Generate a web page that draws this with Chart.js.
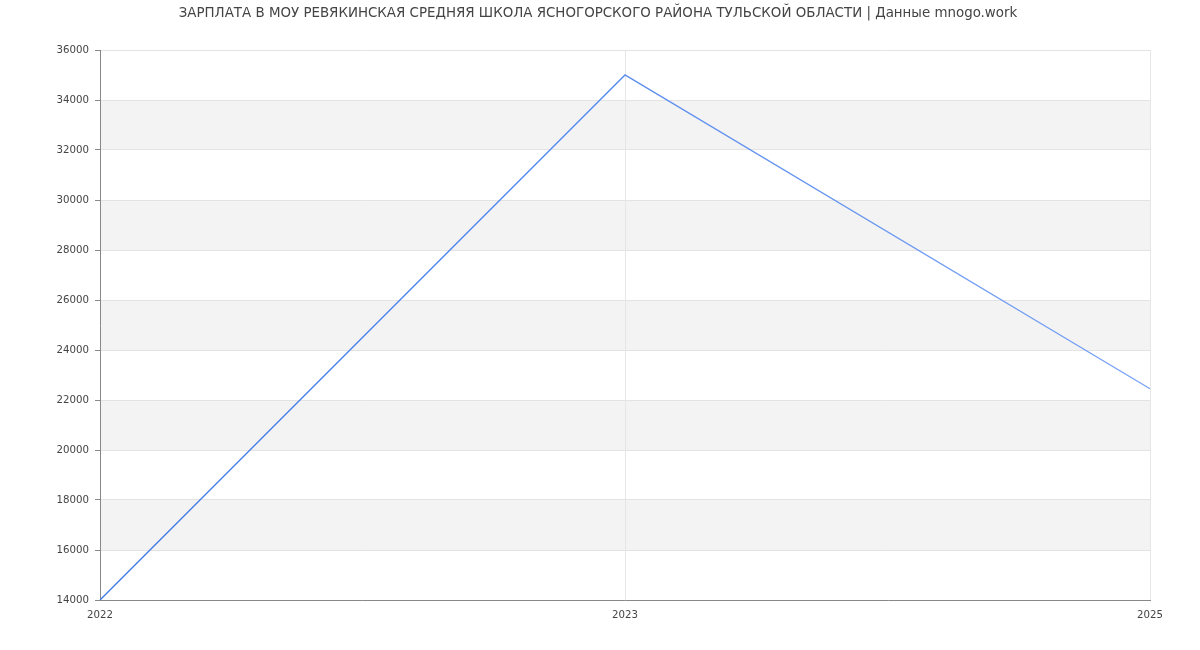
<!DOCTYPE html>
<html><head><meta charset="utf-8">
<script src="https://cdn.jsdelivr.net/npm/chart.js@4"></script>
<style>html,body{margin:0;padding:0;background:#fff}#wrap{width:1200px;height:650px}</style>
</head><body><div id="wrap"><canvas id="c"></canvas></div>
<script>
const titleText = "ЗАРПЛАТА В МОУ РЕВЯКИНСКАЯ СРЕДНЯЯ ШКОЛА ЯСНОГОРСКОГО РАЙОНА ТУЛЬСКОЙ ОБЛАСТИ | Данные mnogo.work";
const years = ["2022", "2023", "2025"];
const salary = [14000, 35000, 22450];
const yMin = 14000, yMax = 36000, yStep = 2000;

const bandsBg = {
  id: 'bandsBg',
  beforeDraw(chart) {
    const {ctx, chartArea: a, scales: {y}} = chart;
    ctx.save();
    ctx.fillStyle = '#f3f3f3';
    let i = 0;
    for (let v = yMin; v < yMax; v += yStep, i++) {
      if (i % 2 === 1) {
        const t = y.getPixelForValue(v + yStep), b = y.getPixelForValue(v);
        ctx.fillRect(a.left, t, a.right - a.left, b - t);
      }
    }
    ctx.restore();
  },
  afterDraw(chart) {
    const ctx = chart.ctx;
    ctx.save();
    ctx.fillStyle = '#444';
    ctx.font = 'normal 13.4px "DejaVu Sans"';
    ctx.textAlign = 'center';
    ctx.textBaseline = 'middle';
    ctx.fillText(titleText, 598, 14);
    ctx.restore();
  }
};

const ctx = document.getElementById('c').getContext('2d');
const chart = new Chart(ctx, {
  type: 'line',
  data: { labels: years, datasets: [{
    data: salary,
    borderWidth: 1.4,
    pointRadius: 0,
    tension: 0,
    fill: false,
    borderColor: (c) => {
      const a = c.chart.chartArea;
      if (!a) return '#4f84e8';
      const g = c.chart.ctx.createLinearGradient(a.left, 0, a.right, 0);
      g.addColorStop(0, '#3f78e4');
      g.addColorStop(1, '#79a3f7');
      return g;
    }
  }]},
  options: {
    responsive: true, maintainAspectRatio: false, animation: false,
    devicePixelRatio: 1,
    layout: { padding: { left: 0, right: 50, top: 50, bottom: 0 } },
    plugins: {
      legend: { display: false },
      tooltip: { enabled: false },
      title: { display: false }
    },
    scales: {
      x: {
        offset: false,
        grid: { color: '#e6e6e6', drawTicks: false },
        border: { color: '#888' },
        ticks: { color: '#444', font: { family: 'DejaVu Sans', size: 10.2 }, padding: 9, maxRotation: 0 },
        afterFit(s) { s.height = 50; }
      },
      y: {
        min: yMin, max: yMax,
        grid: { color: '#e3e3e3', tickColor: '#888', tickLength: 5 },
        border: { color: '#888' },
        ticks: { stepSize: yStep, color: '#444', font: { family: 'DejaVu Sans', size: 10.2 }, padding: 6,
          callback: (v) => String(v) },
        afterFit(s) { s.width = 100; }
      }
    }
  },
  plugins: [bandsBg]
});
</script></body></html>
